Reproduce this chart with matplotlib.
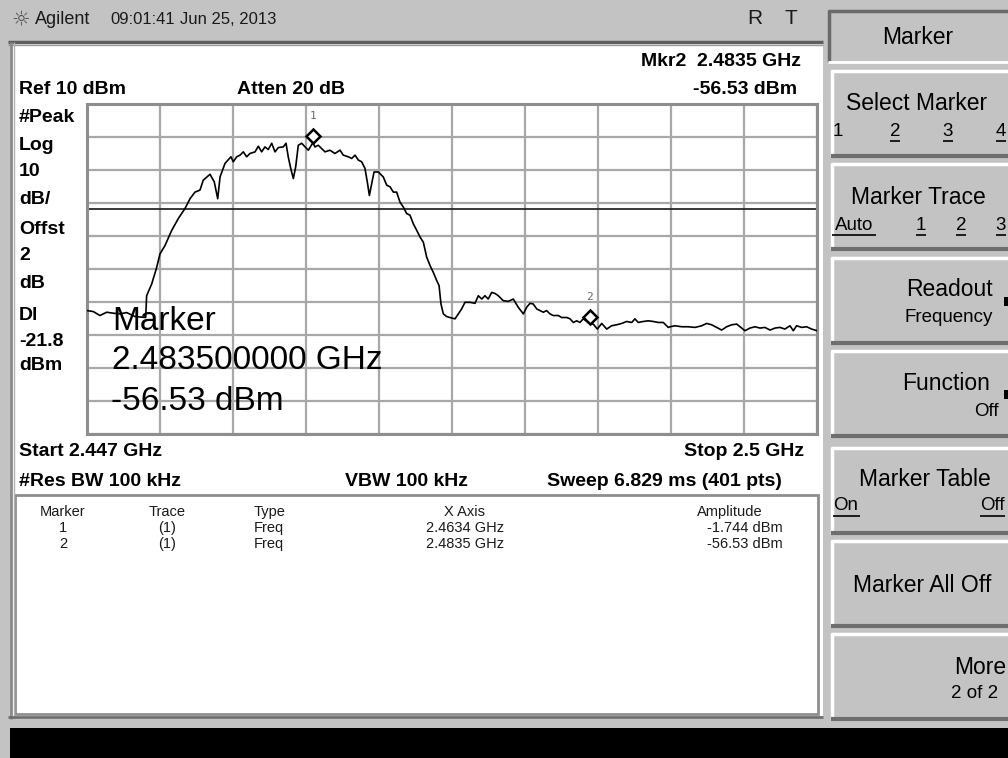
import matplotlib

matplotlib.use("Agg")
import matplotlib.pyplot as plt
import numpy as np
from matplotlib import transforms
from matplotlib.patches import Rectangle


W, H = 1008, 758
SANS = "Liberation Sans"
GREY = "#c3c3c3"

START_MHZ = 2447.0
STOP_MHZ = 2500.0
REF_DBM = 10.0
DB_PER_DIV = 10.0
DISPLAY_LINE_DBM = -21.8

# trace (MHz, dBm)
TRACE_MHZ = [
    2447.00, 2447.46, 2447.94, 2448.43, 2448.91, 2449.40, 2449.88, 2450.48, 2451.26, 2451.33,
    2451.70, 2452.06, 2452.30, 2452.66, 2453.15, 2453.63, 2454.11, 2454.48, 2454.84, 2455.20,
    2455.44, 2455.93, 2456.24, 2456.49, 2456.66, 2457.02, 2457.45, 2457.62, 2457.87, 2458.11,
    2458.35, 2458.59, 2458.83, 2459.20, 2459.44, 2459.68, 2459.92, 2460.16, 2460.41, 2460.65,
    2460.89, 2461.25, 2461.45, 2461.61, 2461.79, 2461.98, 2462.15, 2462.34, 2462.59, 2462.83,
    2463.07, 2463.40, 2463.55, 2463.79, 2464.04, 2464.28, 2464.64, 2465.00, 2465.37, 2465.61,
    2465.97, 2466.22, 2466.46, 2466.70, 2466.94, 2467.18, 2467.35, 2467.50, 2467.67, 2467.84,
    2468.15, 2468.27, 2468.51, 2468.76, 2469.00, 2469.24, 2469.48, 2469.72, 2469.96, 2470.21,
    2470.45, 2470.69, 2470.94, 2471.18, 2471.42, 2471.66, 2471.90, 2472.14, 2472.39, 2472.56,
    2472.70, 2472.87, 2473.11, 2473.43, 2473.72, 2473.96, 2474.20, 2474.44, 2474.81, 2475.17,
    2475.41, 2475.66, 2475.89, 2476.13, 2476.38, 2476.62, 2476.86, 2477.22, 2477.59, 2477.95,
    2478.31, 2478.68, 2478.92, 2479.16, 2479.40, 2479.65, 2479.89, 2480.13, 2480.37, 2480.61,
    2480.85, 2481.22, 2481.46, 2481.83, 2482.07, 2482.31, 2482.55, 2482.79, 2483.03, 2483.50,
    2483.76, 2484.05, 2484.37, 2484.73, 2485.09, 2485.46, 2485.82, 2486.18, 2486.55, 2486.78,
    2487.02, 2487.39, 2487.75, 2488.11, 2488.48, 2488.84, 2489.20, 2489.33, 2489.69, 2490.18,
    2490.65, 2491.14, 2491.63, 2491.99, 2492.35, 2492.72, 2493.08, 2493.44, 2493.81, 2494.17,
    2494.53, 2494.77, 2495.13, 2495.50, 2495.86, 2496.22, 2496.59, 2496.95, 2497.31, 2497.67,
    2498.04, 2498.28, 2498.52, 2498.89, 2499.25, 2499.61, 2500.00,
]
TRACE_DBM = [
    -52.6, -52.9, -54.1, -53.1, -53.4, -53.6, -53.2, -54.4, -54.7, -48.1,
    -44.5, -39.5, -35.4, -32.9, -28.3, -24.7, -21.7, -18.7, -16.7, -16.1,
    -13.1, -11.3, -13.6, -18.7, -12.1, -8.0, -6.0, -7.5, -6.0, -5.5,
    -4.5, -6.0, -5.0, -4.5, -2.8, -4.5, -3.0, -3.8, -1.9, -4.5,
    -3.2, -3.0, -1.9, -6.0, -9.5, -12.6, -9.1, -2.5, -1.9, -3.0,
    -4.0, -1.74, -3.0, -2.5, -3.5, -4.5, -4.0, -5.0, -4.0, -5.5,
    -6.0, -6.5, -5.5, -7.0, -7.5, -9.5, -13.6, -17.7, -14.1, -10.6,
    -10.6, -11.1, -12.1, -14.6, -15.1, -16.7, -16.7, -19.7, -21.2, -23.2,
    -23.7, -26.3, -28.3, -30.3, -31.9, -36.4, -38.9, -41.0, -43.5, -45.0,
    -50.6, -53.6, -54.4, -54.8, -55.1, -53.6, -52.1, -50.1, -50.1, -50.4,
    -48.1, -49.1, -48.1, -49.1, -47.1, -47.4, -48.1, -49.6, -49.8, -49.1,
    -51.6, -53.6, -51.6, -50.4, -50.6, -52.1, -52.6, -53.1, -52.6, -53.6,
    -54.1, -54.1, -54.7, -54.7, -55.1, -56.2, -55.7, -56.2, -55.1, -56.53,
    -56.7, -58.2, -56.5, -58.2, -57.2, -56.9, -56.5, -55.9, -56.2, -55.1,
    -56.2, -55.9, -55.7, -55.9, -56.2, -56.2, -57.7, -57.5, -57.2, -57.5,
    -57.5, -57.7, -57.2, -56.5, -56.9, -57.7, -58.5, -57.5, -56.9, -56.7,
    -57.9, -58.7, -57.9, -57.5, -57.9, -57.7, -58.5, -57.9, -57.7, -58.2,
    -57.2, -58.7, -57.2, -57.7, -57.5, -58.2, -58.7,
]

MARKER_IDS = ["1", "2"]
MARKER_MHZ = [2463.4, 2483.5]
MARKER_DBM = [-1.744, -56.53]

LEFT_LABELS = ["#Peak", "Log", "10", "dB/", "Offst", "2", "dB", "Dl", "-21.8", "dBm"]
LEFT_LABEL_Y = [117, 145, 172, 200, 230, 256, 283, 315, 341, 366]

TABLE_HEADER = ["Marker", "Trace", "Type", "X Axis", "Amplitude"]
TABLE_ROWS = [
    ["1", "(1)", "Freq", "2.4634 GHz", "-1.744 dBm"],
    ["2", "(1)", "Freq", "2.4835 GHz", "-56.53 dBm"],
]

SOFTKEY_TOPS = [70, 163, 257, 350, 447, 540, 633]


def rect(ax, x0, y0, x1, y1, **kw):
    ax.add_patch(Rectangle((x0, y0), x1 - x0, y1 - y0, **kw))


def hline(ax, x0, x1, y, **kw):
    ax.plot([x0, x1], [y, y], solid_capstyle="butt", **kw)


def vline(ax, x, y0, y1, **kw):
    ax.plot([x, x], [y0, y1], solid_capstyle="butt", **kw)


def screen_axes(fig, zorder):
    ax = fig.add_axes([0, 0, 1, 1], zorder=zorder)
    ax.set_xlim(0, W)
    ax.set_ylim(H, 0)
    ax.axis("off")
    ax.patch.set_visible(False)
    return ax


def draw_frame(bg):
    # main white panel
    rect(bg, 11, 41, 823, 719, facecolor="white", edgecolor="none")
    hline(bg, 8, 823, 42, color="#5e5e5e", lw=2.5)
    hline(bg, 8, 823, 45, color="#9a9a9a", lw=1.0)
    vline(bg, 11, 42, 719, color="#8a8a8a", lw=2.0)
    vline(bg, 14, 42, 719, color="#b0b0b0", lw=1.0)
    hline(bg, 8, 823, 717, color="#6e6e6e", lw=2.0)
    # marker table box
    rect(bg, 15, 495, 818, 714, facecolor="white", edgecolor="#8e8e8e", lw=2)
    # bottom message bar
    rect(bg, 10, 728, W + 2, H + 2, facecolor="black", edgecolor="none")

    # softkey title box (sunken)
    rect(bg, 828, 10, W + 2, 62, facecolor=GREY, edgecolor="none")
    hline(bg, 828, W, 11, color="#6a6a6a", lw=2.5)
    vline(bg, 829, 10, 62, color="#6a6a6a", lw=2.5)
    hline(bg, 828, W, 62, color="white", lw=2.0)
    for top in SOFTKEY_TOPS:
        bottom = top + 87
        rect(bg, 831, top, W + 2, bottom, facecolor=GREY, edgecolor="none")
        hline(bg, 831, W, top + 1, color="white", lw=2.5)
        vline(bg, 832, top, bottom, color="white", lw=2.5)
        hline(bg, 831, W, bottom - 1, color="#6e6e6e", lw=3.0)


def draw_trace(fig):
    ax = fig.add_axes([87 / W, 1 - 434 / H, 730 / W, 330 / H], zorder=1)
    ax.set_facecolor("white")
    ax.set_xlim(START_MHZ, STOP_MHZ)
    ax.set_ylim(REF_DBM - 10 * DB_PER_DIV, REF_DBM)
    ax.set_xticks(np.linspace(START_MHZ, STOP_MHZ, 11))
    ax.set_yticks(np.linspace(REF_DBM - 10 * DB_PER_DIV, REF_DBM, 11))
    ax.tick_params(length=0, labelbottom=False, labelleft=False)
    ax.grid(True, color="#a8a8a8", lw=1.6)
    ax.set_axisbelow(True)
    for spine in ax.spines.values():
        spine.set_color("#8e8e8e")
        spine.set_linewidth(2.2)

    ax.axhline(DISPLAY_LINE_DBM, color="#2a2a2a", lw=1.3, zorder=2)
    ax.plot(TRACE_MHZ, TRACE_DBM, color="black", lw=1.2, zorder=3)

    lifted = transforms.offset_copy(ax.transData, fig=fig, x=0, y=5, units="points")
    for mid, f, a in zip(MARKER_IDS, MARKER_MHZ, MARKER_DBM):
        ax.plot([f], [a], marker="D", markersize=7, markerfacecolor="white",
                markeredgecolor="black", markeredgewidth=1.8, transform=lifted, zorder=4)
        ax.annotate(mid, (f, a), xytext=(0, 19), textcoords="offset points",
                    ha="center", va="center", fontsize=8, color="#6a6a6a",
                    family="DejaVu Sans Mono", zorder=4)
    return ax


def draw_text(top):
    dark = "#1a1a1a"
    # status bar
    top.text(21, 19, "\u263c", fontsize=15, color="#505050", ha="center", va="center")
    top.text(35, 19, "Agilent", fontsize=13, family=SANS, color=dark, va="center")
    top.text(110, 19, "09:01:41", fontsize=12, family=SANS, color=dark, va="center")
    top.text(180, 19, "Jun 25, 2013", fontsize=12, family=SANS, color=dark, va="center")
    top.text(755, 19, "R", fontsize=15, family=SANS, color=dark, va="center", ha="center")
    top.text(791, 19, "T", fontsize=15, family=SANS, color=dark, va="center", ha="center")

    bold = dict(family=SANS, fontweight="bold", fontsize=14, color="black", va="center")
    top.text(801, 62, f"Mkr{MARKER_IDS[1]}  {MARKER_MHZ[1] / 1000:.4f} GHz", ha="right", **bold)
    top.text(19, 90, f"Ref {REF_DBM:.0f} dBm", **bold)
    top.text(237, 90, "Atten 20 dB", **bold)
    top.text(797, 90, f"{MARKER_DBM[1]:.2f} dBm", ha="right", **bold)
    for label, y in zip(LEFT_LABELS, LEFT_LABEL_Y):
        top.text(19, y, label, **bold)
    top.text(19, 452, f"Start {START_MHZ / 1000:.3f} GHz", **bold)
    top.text(804, 452, f"Stop {STOP_MHZ / 1000:.1f} GHz", ha="right", **bold)
    top.text(19, 481, "#Res BW 100 kHz", **bold)
    top.text(345, 481, "VBW 100 kHz", **bold)
    top.text(782, 481, "Sweep 6.829 ms (401 pts)", ha="right", **bold)

    # big marker readout over the graticule
    big = dict(family=SANS, fontsize=24, color="black", va="baseline")
    top.text(112, 330, "Marker", **big)
    top.text(112, 369, f"{MARKER_MHZ[1] / 1000:.9f} GHz", **big)
    top.text(111, 410, f"{MARKER_DBM[1]:.2f} dBm", **big)

    # marker table
    small = dict(family=SANS, fontsize=10.5, color=dark, va="center")
    col_x = [63, 167, 254, 465, 730]
    col_ha = ["center", "center", "left", "center", "center"]
    for x, ha, head in zip(col_x, col_ha, TABLE_HEADER):
        top.text(x, 512, head, ha=ha, **small)
    for row, y in zip(TABLE_ROWS, [528, 544]):
        for x, ha, cell in zip(col_x, col_ha, row):
            if cell.endswith("dBm"):
                top.text(707, y, cell, ha="left", **small)
            else:
                top.text(x, y, cell, ha=ha, **small)


def draw_softkeys(top):
    key = dict(family=SANS, fontsize=16.5, color="black", va="center")
    sub = dict(family=SANS, fontsize=13.5, color="black", va="center")
    top.text(918, 37, "Marker", ha="center", **key)

    top.text(917, 104, "Select Marker", ha="center", **key)
    for x, label in zip([838, 895, 948, 1001], ["1", "2", "3", "4"]):
        top.text(x, 131, label, ha="center", **sub)
        if label != "1":
            hline(top, x - 5, x + 5, 141, color="black", lw=1.2)

    top.text(918, 197, "Marker Trace", ha="center", **key)
    for x, label, w in zip([854, 921, 961, 1001], ["Auto", "1", "2", "3"], [22, 5, 5, 5]):
        top.text(x, 225, label, ha="center", **sub)
        hline(top, x - w, x + w, 235, color="black", lw=1.2)

    top.text(993, 290, "Readout", ha="right", **key)
    top.text(993, 318, "Frequency", ha="right", **sub)
    rect(top, 1004, 297, 1008, 306, facecolor="black", edgecolor="none")

    top.text(990, 384, "Function", ha="right", **key)
    top.text(999, 412, "Off", ha="right", **sub)
    rect(top, 1004, 390, 1008, 399, facecolor="black", edgecolor="none")

    top.text(925, 479, "Marker Table", ha="center", **key)
    top.text(833, 506, "On", ha="left", **sub)
    hline(top, 833, 860, 516, color="black", lw=1.2)
    top.text(1005, 506, "Off", ha="right", **sub)
    hline(top, 980, 1005, 516, color="black", lw=1.2)

    top.text(922, 585, "Marker All Off", ha="center", **key)

    top.text(1006, 667, "More", ha="right", **key)
    top.text(998, 693, "2 of 2", ha="right", **sub)


def main():
    fig = plt.figure(figsize=(W / 100, H / 100), dpi=100, facecolor=GREY)
    bg = screen_axes(fig, zorder=0)
    draw_frame(bg)
    draw_trace(fig)
    top = screen_axes(fig, zorder=2)
    draw_text(top)
    draw_softkeys(top)
    fig.savefig("out.png", dpi=100, facecolor=GREY)
    plt.close(fig)


if __name__ == "__main__":
    main()
